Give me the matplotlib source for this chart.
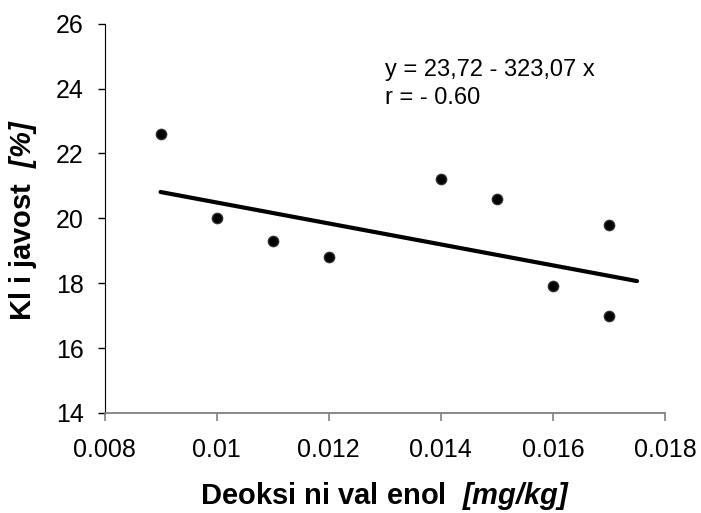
import matplotlib
matplotlib.use("Agg")
import matplotlib.pyplot as plt

# Podaci
don = [0.009, 0.010, 0.011, 0.012, 0.014, 0.015, 0.016, 0.017, 0.017]
klijavost = [22.6, 20.0, 19.3, 18.8, 21.2, 20.6, 17.9, 19.8, 17.0]
fit_x = [0.009, 0.0175]
intercept = 23.72
slope = -323.07
x_ticks = [0.008, 0.010, 0.012, 0.014, 0.016, 0.018]
x_tick_labels = ["0.008", "0.01", "0.012", "0.014", "0.016", "0.018"]
y_ticks = [14, 16, 18, 20, 22, 24, 26]

plt.rcParams['font.family'] = ['Liberation Sans', 'DejaVu Sans']
plt.rcParams['mathtext.fontset'] = 'custom'
plt.rcParams['mathtext.rm'] = 'Liberation Sans'
plt.rcParams['mathtext.bf'] = 'Liberation Sans:bold'
plt.rcParams['mathtext.bfit'] = 'Liberation Sans:italic:bold'

W, H = 701, 513
fig = plt.figure(figsize=(W / 100, H / 100), dpi=100)
ax = fig.add_axes([104.5 / W, 1 - 413 / H, (665 - 104.5) / W, (413 - 23.7) / H])

ax.scatter(don, klijavost, s=55, color="black", edgecolors="#303030", linewidths=1, zorder=3)
fy = [intercept + slope * v for v in fit_x]
ax.plot(fit_x, fy, color="black", lw=3, solid_capstyle="round")

ax.set_xlim(0.008, 0.018)
ax.set_ylim(14, 26)
ax.set_xticks(x_ticks)
ax.set_xticklabels(x_tick_labels)
ax.set_yticks(y_ticks)

for s in ["top", "right"]:
    ax.spines[s].set_visible(False)
ax.spines["left"].set_color("black")
ax.spines["bottom"].set_color("#808080")
ax.spines["bottom"].set_linewidth(1.3)
ax.tick_params(axis="x", direction="out", length=6, width=1.2, color="#808080",
               labelsize=18, pad=12)
ax.tick_params(axis="y", direction="out", length=5, width=1, color="black",
               labelsize=18, pad=10)

fig.text(385 / W, 1 - 504 / H, r"Deoksi ni val enol  $\mathbfit{[mg/kg]}$",
         fontsize=21, fontweight="bold", ha="center", va="baseline")
fig.text(23 / W, 1 - 220 / H, r"Kl i javost  $\mathbfit{[\%]}$",
         fontsize=21, fontweight="bold", ha="center", va="center", rotation=90)

ax.text(0.013, 24.39, "y = 23,72 - 323,07 x", fontsize=17, va="baseline", ha="left")
ax.text(0.013, 23.52, "r = - 0.60", fontsize=17, va="baseline", ha="left")

fig.savefig("out.png", dpi=100)
